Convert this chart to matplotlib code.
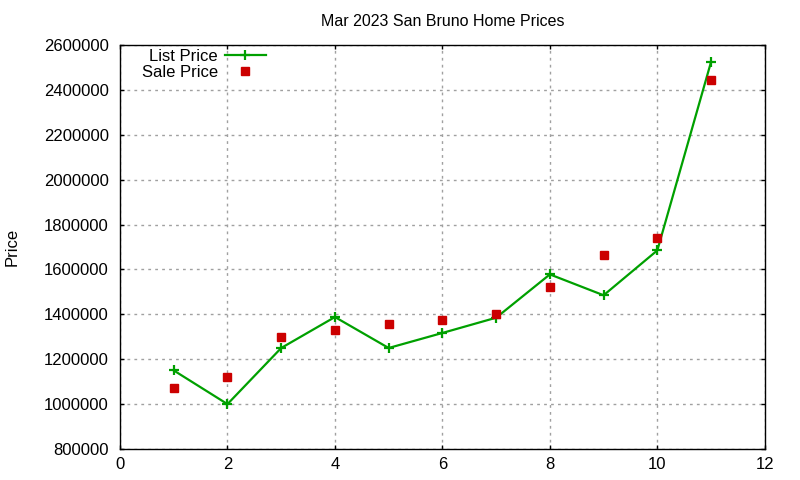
import matplotlib
matplotlib.use('Agg')
import matplotlib.pyplot as plt

plt.rcParams['font.family'] = ['Liberation Sans', 'DejaVu Sans']

# data
month_idx = [1, 2, 3, 4, 5, 6, 7, 8, 9, 10, 11]
list_price = [1150000, 1000000, 1250000, 1388000, 1250000, 1317000,
              1385000, 1578000, 1485000, 1685000, 2525000]
sale_price = [1070000, 1120000, 1300000, 1330000, 1357000, 1375000,
              1400000, 1522000, 1665000, 1740000, 2445000]

fig = plt.figure(figsize=(8, 4.8), dpi=100)
ax = fig.add_axes([0.15, 0.0646, 0.806, 0.8416])

ax.plot(month_idx, list_price, '-+', color='#00a000', lw=1.6,
        ms=7, mew=1.6, label='List Price')
ax.plot(month_idx, sale_price, 's', color='#cc0000', ms=5.5,
        linestyle='none', label='Sale Price')

ax.set_xlim(0, 12)
ax.set_ylim(800000, 2600000)
ax.set_xticks(range(0, 13, 2))
ax.set_yticks(range(800000, 2600001, 200000))
ax.ticklabel_format(style='plain', axis='y')

ax.grid(True, color='#a0a0a0', linestyle=(0, (2, 3)), lw=1)
ax.tick_params(direction='in', top=True, right=True, labelsize=12,
               length=3, width=1)
ax.tick_params(axis='y', pad=8)
ax.tick_params(axis='x', pad=5.5)
for s in ax.spines.values():
    s.set_linewidth(1)

ax.set_title('Mar 2023 San Bruno Home Prices', fontsize=11.5, pad=13.5)
ax.set_ylabel('Price', fontsize=12)
ax.yaxis.set_label_coords(-0.156, 0.5)

ax.legend(loc='upper right', frameon=False, markerfirst=False, fontsize=12,
          handlelength=2.5, handletextpad=0.4, borderaxespad=0,
          borderpad=0.05, labelspacing=0.05,
          bbox_to_anchor=(0.228, 0.9926))

fig.savefig('out.png', dpi=100)
